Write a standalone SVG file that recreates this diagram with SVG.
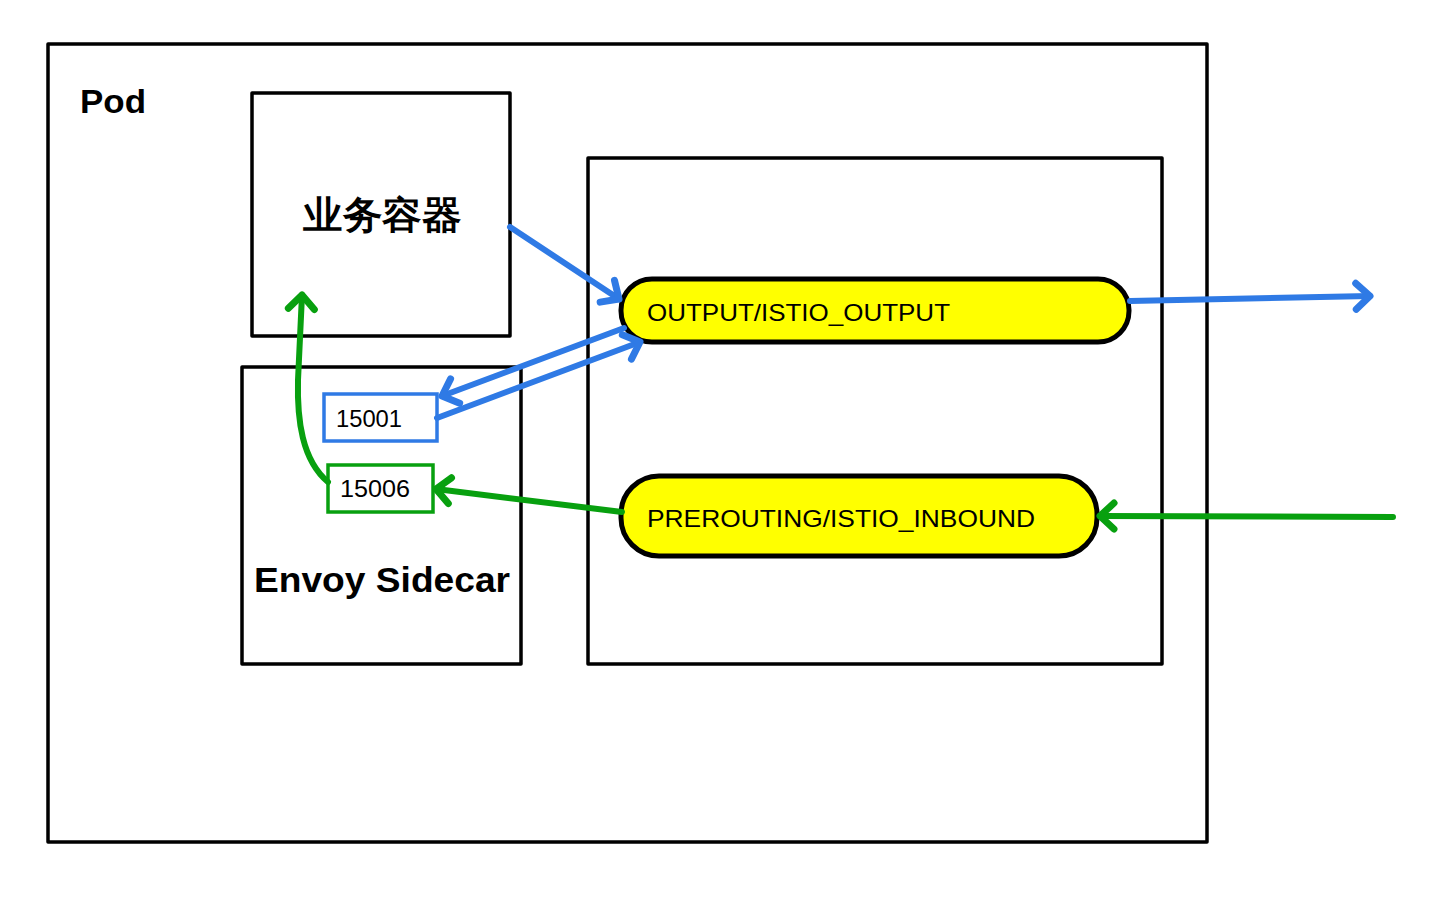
<svg xmlns="http://www.w3.org/2000/svg" width="1442" height="900" viewBox="0 0 1442 900">
<style>
.box{fill:none;stroke:#000;stroke-width:3.5;stroke-linejoin:round}
.pill{fill:#ffff00;stroke:#000;stroke-width:5}
.t{font-family:"Liberation Sans","Noto Sans",sans-serif;fill:#000}
.b{stroke:#2f7ae5;stroke-width:6;fill:none;stroke-linecap:round}
.g{stroke:#08a00f;stroke-width:6;fill:none;stroke-linecap:round}
.port-b{fill:#fff;stroke:#2f7ae5;stroke-width:3.5}
.port-g{fill:#fff;stroke:#08a00f;stroke-width:3.5}
</style>
<defs>
<marker id="ab" markerUnits="userSpaceOnUse" markerWidth="40" markerHeight="40" refX="21" refY="20" orient="auto" viewBox="0 0 40 40">
<path d="M7,7 L21,20 L7,33" fill="none" stroke="#2f7ae5" stroke-width="7" stroke-linecap="round" stroke-linejoin="round"/>
</marker>
<marker id="ag" markerUnits="userSpaceOnUse" markerWidth="40" markerHeight="40" refX="21" refY="20" orient="auto" viewBox="0 0 40 40">
<path d="M7,7 L21,20 L7,33" fill="none" stroke="#08a00f" stroke-width="7" stroke-linecap="round" stroke-linejoin="round"/>
</marker>
</defs>
<rect width="1442" height="900" fill="#fff"/>
<g id="pod">
<rect class="box" x="48" y="44" width="1159" height="798"/>
<text class="t" x="80" y="113" font-size="34" font-weight="bold" textLength="66" lengthAdjust="spacingAndGlyphs">Pod</text>
</g>
<g id="app">
<rect class="box" x="252" y="93" width="258" height="243"/>
<text class="t" x="303" y="228" font-size="38" font-family="'Noto Sans CJK SC',sans-serif" font-weight="bold" textLength="158" lengthAdjust="spacingAndGlyphs">业务容器</text>
</g>
<g id="envoy">
<rect class="box" x="242" y="367" width="279" height="297"/>
<text class="t" x="254" y="592" font-size="35" font-weight="bold" textLength="256" lengthAdjust="spacingAndGlyphs">Envoy Sidecar</text>
</g>
<g id="iptables">
<rect class="box" x="588" y="158" width="574" height="506"/>
</g>
<g id="output">
<rect class="pill" x="621" y="279" width="508" height="63" rx="31"/>
<text class="t" x="647" y="321" font-size="24" textLength="303" lengthAdjust="spacingAndGlyphs">OUTPUT/ISTIO_OUTPUT</text>
</g>
<g id="prerouting">
<rect class="pill" x="621" y="476" width="476" height="80" rx="38"/>
<text class="t" x="647" y="527" font-size="24" textLength="388" lengthAdjust="spacingAndGlyphs">PREROUTING/ISTIO_INBOUND</text>
</g>
<g id="p15001">
<rect class="port-b" x="324" y="394" width="113" height="47"/>
<text class="t" x="336" y="427" font-size="23" textLength="66" lengthAdjust="spacingAndGlyphs">15001</text>
</g>
<g id="p15006">
<rect class="port-g" x="328" y="465" width="105" height="47"/>
<text class="t" x="340" y="497" font-size="23" textLength="70" lengthAdjust="spacingAndGlyphs">15006</text>
</g>
<g id="connectors">
<path class="b" d="M510,227 L619,299" marker-end="url(#ab)"/>
<path class="b" d="M624,328 L442,396" marker-end="url(#ab)"/>
<path class="b" d="M437,418 L640,342" marker-end="url(#ab)"/>
<path class="b" d="M1130,301 L1370,296" marker-end="url(#ab)"/>
<path class="g" d="M1393,517 L1100,516" marker-end="url(#ag)"/>
<path class="g" d="M622,512 L436,489" marker-end="url(#ag)"/>
<path class="g" d="M328,482 C302,460 297,420 298,380 L302,295" marker-end="url(#ag)"/>
</g>
</svg>
